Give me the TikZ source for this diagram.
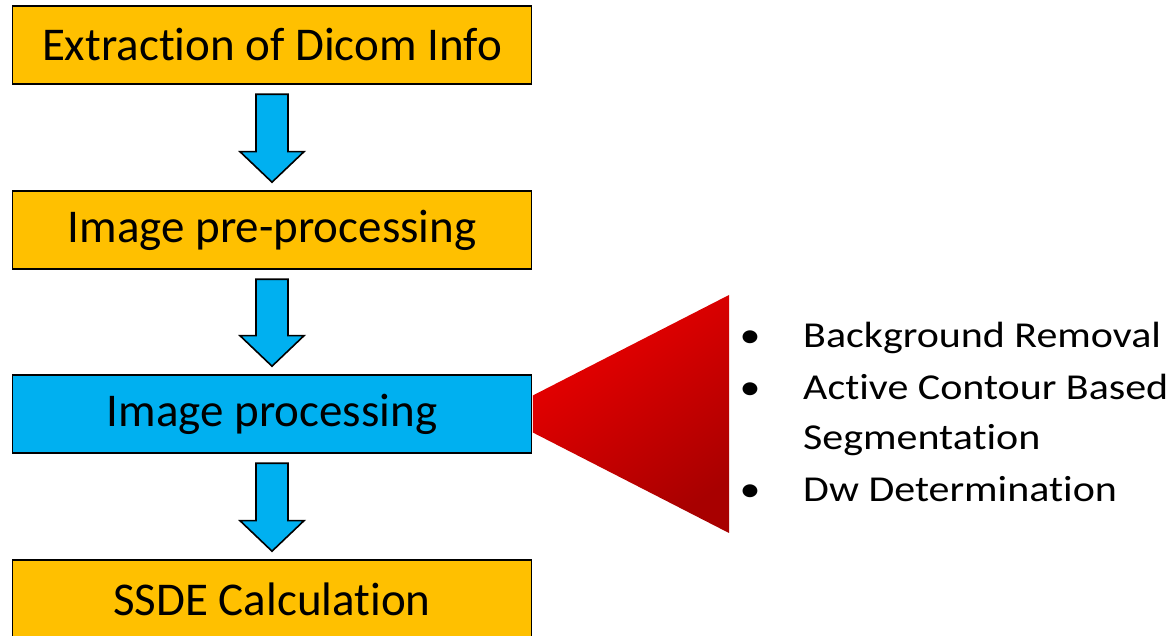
\documentclass[tikz,border=0pt]{standalone}
\usepackage{fontspec}
\setmainfont{Carlito}[RawFeature={-liga;-calt;-dlig}]
\usetikzlibrary{calc}
\definecolor{boxorange}{HTML}{FFC000}
\definecolor{boxblue}{HTML}{00B0F0}
\definecolor{redA}{HTML}{EE0000}
\definecolor{redB}{HTML}{E20000}
\definecolor{redC}{HTML}{A80000}
\newcommand\noti{t\kern0pt i}
\tikzset{
  stagebox/.style={draw=black, line width=1.6pt, minimum width=519pt, minimum height=78pt, inner sep=0pt, font=\fontsize{47}{56}\selectfont},
  orangebox/.style={stagebox, fill=boxorange},
  bluebox/.style={stagebox, fill=boxblue},
  barrow/.style={draw=black, line width=1.6pt, fill=boxblue, line join=miter},
  itemtext/.style={anchor=base west, inner sep=0pt, font=\fontsize{36.5}{44}\selectfont},
  itembullet/.style={anchor=base, inner sep=0pt, font=\fontsize{36.5}{44}\selectfont},
}
\newcommand\stagearrow[2]{%
  \draw[barrow] ($(#1.south)+(-16,-9.5)$) -- ($(#1.south)+(16,-9.5)$)
    -- ($(#2.north)+(16,38.5)$) -- ($(#2.north)+(32,38.5)$)
    -- ($(#2.north)+(0,8)$) -- ($(#2.north)+(-32,38.5)$)
    -- ($(#2.north)+(-16,38.5)$) -- cycle;}
\newcommand\widetext[1]{\scalebox{1.15}[1]{#1}}
\begin{document}
\begin{tikzpicture}[x=1pt,y=1pt]
\useasboundingbox (0,0) rectangle (1176,636);
\clip (0,0) rectangle (1176,636);
\fill[white] (0,0) rectangle (1176,636);
\node[orangebox] (b1) at (272,591) {Extrac\noti on of Dicom Info};
\node[orangebox] (b2) at (272,406) {Image pre-processing};
\node[bluebox]   (b3) at (272,222) {Image processing};
\node[orangebox] (b4) at (272,37)  {SSDE Calcula\noti on};
\stagearrow{b1}{b2}
\stagearrow{b2}{b3}
\stagearrow{b3}{b4}
\shade[shading=axis, top color=redA, middle color=redB, bottom color=redC, shading angle=35]
  ($(b3.east)+(0.5,18.5)$) -- (729,341) -- (729,103) -- ($(b3.east)+(0.5,-18.5)$) -- cycle;
\node[itembullet] (d1) at (750,288) {\widetext{•}};
\node[itemtext]   (t1) at (803,288) {\widetext{Background Removal}};
\node[itembullet] (d2) at (750,236) {\widetext{•}};
\node[itemtext]   (t2) at (803,236) {\widetext{Ac\noti ve Contour Based}};
\node[itemtext]   (t2b) at (803,186) {\widetext{Segmenta\noti on}};
\node[itembullet] (d3) at (750,134) {\widetext{•}};
\node[itemtext]   (t3) at (803,134) {\widetext{Dw Determina\noti on}};
\end{tikzpicture}
\end{document}
